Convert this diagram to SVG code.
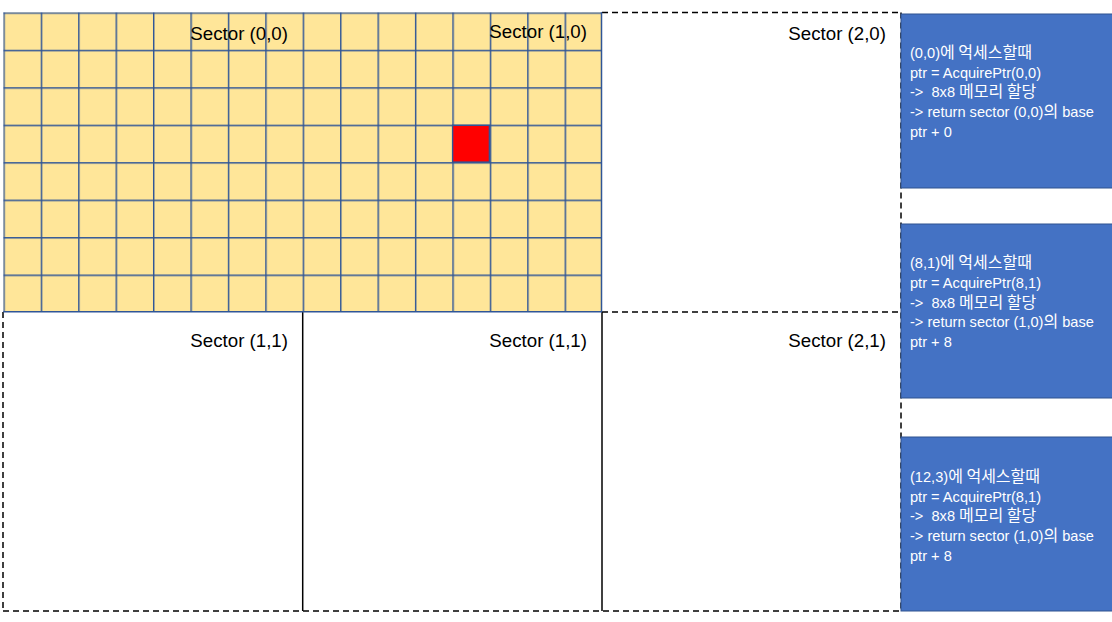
<svg xmlns="http://www.w3.org/2000/svg" width="1112" height="622" viewBox="0 0 1112 622">
<defs>
<pattern id="cells" x="3.3" y="12.3" width="37.42" height="37.46" patternUnits="userSpaceOnUse">
<rect x="0" y="0" width="37.42" height="37.46" fill="#FFE699"/>
<path d="M0.7 0 V37.46 M0 0.7 H37.42" stroke="#2F5597" stroke-width="1.5" fill="none"/>
</pattern>
</defs>
<style>
.dash{stroke:#000;stroke-width:1.5;stroke-dasharray:6 4;fill:none}
.solid{stroke:#000;stroke-width:1.5;fill:none}
.lbl{font-family:"Liberation Sans","Noto Sans",sans-serif;font-size:18.7px;fill:#000;text-anchor:end}
.box{fill:#4472C4;stroke:#2F528F;stroke-width:1}
.bt{font-family:"Liberation Sans","Noto Sans CJK KR",sans-serif;font-size:14.6px;fill:#fff;white-space:pre}
.ko{font-family:"Noto Sans CJK KR",sans-serif;font-size:16px}
</style>
<g id="connectors">
<path class="dash" d="M602 12.5 H901"/>
<path class="dash" d="M901 12.5 V611"/>
<path class="dash" d="M602 312 H901"/>
<path class="dash" d="M3 611 H901"/>
<path class="dash" d="M3 312 V611"/>
<path class="solid" d="M302.7 312 V611"/>
<path class="solid" d="M602 312 V611"/>
</g>
<g id="grid">
<rect x="3.3" y="12.3" width="598.7" height="299.7" fill="url(#cells)"/>
<path d="M601.5 12.3 V312 M3.3 311.7 H602" stroke="#2F5597" stroke-width="1.5" fill="none"/>
<rect id="red-cell" x="452.6" y="125.3" width="36.8" height="36.8" fill="#FF0000" stroke="#2F5597" stroke-width="1.4"/>
</g>
<g id="sector-0-0"><text class="lbl" x="288" y="40">Sector (0,0)</text></g>
<g id="sector-1-0"><text class="lbl" x="587" y="38">Sector (1,0)</text></g>
<g id="sector-2-0"><text class="lbl" x="886" y="40">Sector (2,0)</text></g>
<g id="sector-0-1"><text class="lbl" x="288" y="347">Sector (1,1)</text></g>
<g id="sector-1-1"><text class="lbl" x="587" y="347">Sector (1,1)</text></g>
<g id="sector-2-1"><text class="lbl" x="886" y="347">Sector (2,1)</text></g>
<g id="box1">
<rect class="box" x="901" y="14" width="212" height="174"/>
<text class="bt" x="910" y="58">(0,0)<tspan class="ko">에 억세스할때</tspan></text>
<text class="bt" x="910" y="78">ptr = AcquirePtr(0,0)</text>
<text class="bt" x="910" y="97" xml:space="preserve">-&gt;  8x8 <tspan class="ko">메모리 할당</tspan></text>
<text class="bt" x="910" y="117">-&gt; return sector (0,0)<tspan class="ko">의</tspan> base</text>
<text class="bt" x="910" y="137">ptr + 0</text>
</g>
<g id="box2">
<rect class="box" x="901" y="224" width="212" height="174"/>
<text class="bt" x="910" y="268">(8,1)<tspan class="ko">에 억세스할때</tspan></text>
<text class="bt" x="910" y="288">ptr = AcquirePtr(8,1)</text>
<text class="bt" x="910" y="308" xml:space="preserve">-&gt;  8x8 <tspan class="ko">메모리 할당</tspan></text>
<text class="bt" x="910" y="327">-&gt; return sector (1,0)<tspan class="ko">의</tspan> base</text>
<text class="bt" x="910" y="347">ptr + 8</text>
</g>
<g id="box3">
<rect class="box" x="901" y="437" width="212" height="174"/>
<text class="bt" x="910" y="482">(12,3)<tspan class="ko">에 억세스할때</tspan></text>
<text class="bt" x="910" y="502">ptr = AcquirePtr(8,1)</text>
<text class="bt" x="910" y="521" xml:space="preserve">-&gt;  8x8 <tspan class="ko">메모리 할당</tspan></text>
<text class="bt" x="910" y="541">-&gt; return sector (1,0)<tspan class="ko">의</tspan> base</text>
<text class="bt" x="910" y="561">ptr + 8</text>
</g>
</svg>
